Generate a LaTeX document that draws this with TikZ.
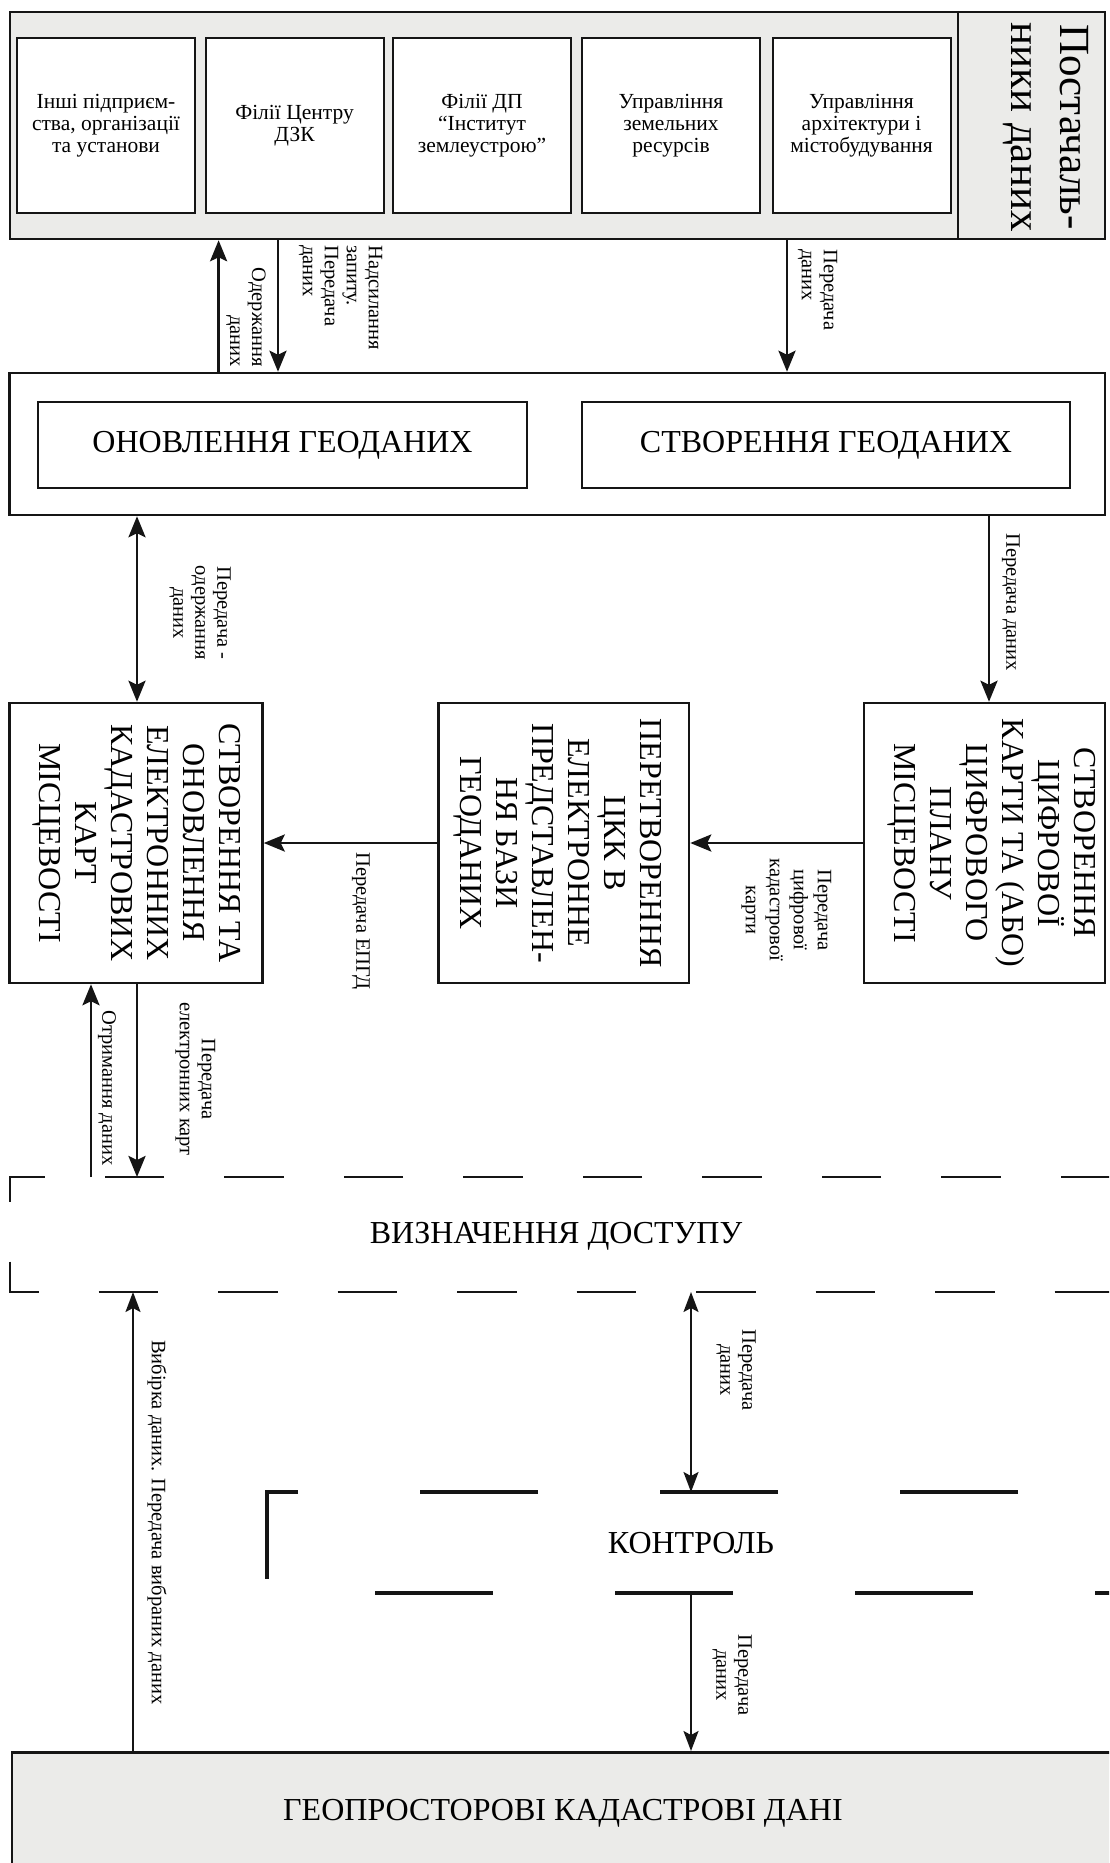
\documentclass[tikz,border=0pt]{standalone}
\usepackage{fontspec}
\setmainfont{Liberation Serif}
\usetikzlibrary{arrows.meta}
\definecolor{ink}{HTML}{151515}
\definecolor{panel}{HTML}{EBEBE9}
\newcommand{\capsfont}{\fontsize{32}{36}\selectfont}
\newcommand{\lblfont}{\fontsize{20.5}{22}\selectfont}
\newcommand{\lblfontb}{\fontsize{20.5}{24}\selectfont}
\newcommand{\orgfont}{\fontsize{21.5}{22}\selectfont}
\newcommand{\supfont}{\fontsize{43}{49}\selectfont}
\begin{document}
\begin{tikzpicture}[x=1pt,y=-1pt,
  panelbox/.style={draw=ink,fill=panel,line width=2.5pt,inner sep=0pt},
  framebox/.style={draw=ink,fill=white,line width=2.5pt,inner sep=0pt},
  orgbox/.style={draw=ink,fill=white,line width=2pt,inner sep=0pt,align=center,font=\orgfont,minimum width=178pt,minimum height=175pt},
  procbox/.style={draw=ink,fill=white,line width=2pt,inner sep=0pt,font=\capsfont,minimum height=86pt},
  vtext/.style={rotate=-90,align=center,font=\capsfont,inner sep=0pt},
  htext/.style={font=\capsfont,inner sep=0pt},
  lbl/.style={rotate=-90,font=\lblfont,inner sep=0pt},
  conn/.style={draw=ink,line width=2.8pt,-{Stealth[length=21pt,width=17pt,inset=4pt]}},
  dconn/.style={draw=ink,line width=2.8pt,{Stealth[length=21pt,width=17pt,inset=4pt]}-{Stealth[length=21pt,width=17pt,inset=4pt]}},
  thinconn/.style={draw=ink,line width=2pt,-{Stealth[length=20pt,width=15pt,inset=4pt]}},
  dthinconn/.style={draw=ink,line width=2pt,{Stealth[length=20pt,width=15pt,inset=4pt]}-{Stealth[length=20pt,width=15pt,inset=4pt]}}
]
\useasboundingbox (0,0) rectangle (1109,1863);
\clip (0,0) rectangle (1109,1863);
\fill[white] (0,0) rectangle (1109,1863);

% suppliers panel
\node[panelbox,minimum width=1095pt,minimum height=227pt] (sup) at (557.5,125.5) {};
\coordinate (xdiv) at (958,0);
\draw[ink,line width=2.5pt] (sup.north -| xdiv) -- (sup.south -| xdiv);
\node[rotate=-90,align=center,font=\supfont,inner sep=0pt] (suplbl) at (1046,127) {Постачаль-\\ники даних};
\node[orgbox] (org1) at (106,125.5) {Інші підприєм-\\ства, організації\\та установи};
\node[orgbox] (org2) at (294.5,125.5) {Філії Центру\\ДЗК};
\node[orgbox] (org3) at (482,125.5) {Філії ДП\\“Інститут\\землеустрою”};
\node[orgbox] (org4) at (671,125.5) {Управління\\земельних\\ресурсів};
\node[orgbox] (org5) at (861.5,125.5) {Управління\\архітектури і\\містобудування};

% geodata panel
\node[framebox,minimum width=1095.5pt,minimum height=142pt] (geo) at (557.3,444) {};
\node[procbox,minimum width=489pt] (upd) at (282.5,445) {ОНОВЛЕННЯ ГЕОДАНИХ};
\node[procbox,minimum width=488pt] (cre) at (826,445) {СТВОРЕННЯ ГЕОДАНИХ};

% three vertical boxes
\node[framebox,minimum width=253pt,minimum height=280pt] (ecm) at (136,843) {};
\node[vtext] (ecmt) at (137,843) {СТВОРЕННЯ ТА\\ОНОВЛЕННЯ\\ЕЛЕКТРОННИХ\\КАДАСТРОВИХ\\КАРТ\\МІСЦЕВОСТІ};
\node[framebox,minimum width=250.4pt,minimum height=280pt] (ckk) at (563.8,843) {};
\node[vtext] (ckkt) at (558,843) {ПЕРЕТВОРЕННЯ\\ЦКК В\\ЕЛЕКТРОННЕ\\ПРЕДСТАВЛЕН-\\НЯ БАЗИ\\ГЕОДАНИХ};
\node[framebox,minimum width=241pt,minimum height=280pt] (dig) at (984.5,843) {};
\node[vtext] (digt) at (992,843) {СТВОРЕННЯ\\ЦИФРОВОЇ\\КАРТИ ТА (АБО)\\ЦИФРОВОГО\\ПЛАНУ\\МІСЦЕВОСТІ};

% access (dashed)
\coordinate (vtl) at (9.6,1177);
\coordinate (vbl) at (9.6,1292);
\draw[ink,line width=2pt,dash pattern=on 59.5pt off 60pt] (1120,1177) -- (vtl) -- (vbl) -- (1120,1292);
\node[htext] (acc) at (556,1236) {ВИЗНАЧЕННЯ ДОСТУПУ};

% control (dashed, thick)
\coordinate (ktl) at (267,1492);
\coordinate (kbl) at (267,1593);
\draw[ink,line width=4pt,dash pattern=on 118pt off 122pt] (1258,1492) -- (ktl) -- (kbl) -- (1258,1593);
\node[htext] (ctl) at (691,1543) {КОНТРОЛЬ};

% cadastral data
\node[panelbox,minimum width=1110pt,minimum height=130pt,anchor=north west] (cad) at (10.6,1751) {};
\node[htext] (cadt) at (563,1813) {ГЕОПРОСТОРОВІ КАДАСТРОВІ ДАНІ};

% connector x positions
\coordinate (xa) at (218.6,0);
\coordinate (xb) at (278,0);
\coordinate (xc) at (787,0);
\coordinate (xd) at (137,0);
\coordinate (xe) at (989,0);
\coordinate (xf) at (91,0);
\coordinate (xg) at (133,0);
\coordinate (xh) at (691,0);

\draw[conn] (geo.north -| xa) -- (sup.south -| xa);
\draw[conn] (sup.south -| xb) -- (geo.north -| xb);
\draw[conn] (sup.south -| xc) -- (geo.north -| xc);
\draw[dconn] (geo.south -| xd) -- (ecm.north -| xd);
\draw[conn] (geo.south -| xe) -- (dig.north -| xe);
\draw[conn] (dig.west) -- (ckk.east);
\draw[conn] (ckk.west) -- (ecm.east);
\draw[conn] (ecm.south -| xd) -- (vtl -| xd);
\draw[conn] (vtl -| xf) -- (ecm.south -| xf);
\draw[thinconn] (cad.north -| xg) -- (vbl -| xg);
\draw[dthinconn] (vbl -| xh) -- (ktl -| xh);
\draw[thinconn] (kbl -| xh) -- (cad.north -| xh);

% labels
\node[lbl,align=left,anchor=west] (l1) at (340.5,245) {Надсилання\\запиту.\\Передача\\даних};
\node[lbl,align=right,anchor=east] (l2) at (246,367) {Одержання\\даних};
\node[lbl,align=left,anchor=west] (l3) at (817.5,249) {Передача\\даних};
\node[lbl,align=center] (l4) at (200,613) {Передача -\\одержання\\даних};
\node[lbl,anchor=west] (l5) at (1011,533) {Передача даних};
\node[lbl,align=center,font=\lblfontb] (l6) at (786.5,910) {Передача\\цифрової\\кадастрової\\карти};
\node[lbl,anchor=west] (l7) at (361,852) {Передача ЕПГД};
\node[lbl,align=center] (l8) at (195.5,1079) {Передача\\електронних карт};
\node[lbl] (l9) at (107,1088) {Отримання даних};
\node[lbl,align=center] (l10) at (736,1370) {Передача\\даних};
\node[lbl,align=center] (l11) at (732,1675) {Передача\\даних};
\node[lbl,anchor=west] (l12) at (157,1340) {Вибірка даних. Передача вибраних даних};
\end{tikzpicture}
\end{document}
